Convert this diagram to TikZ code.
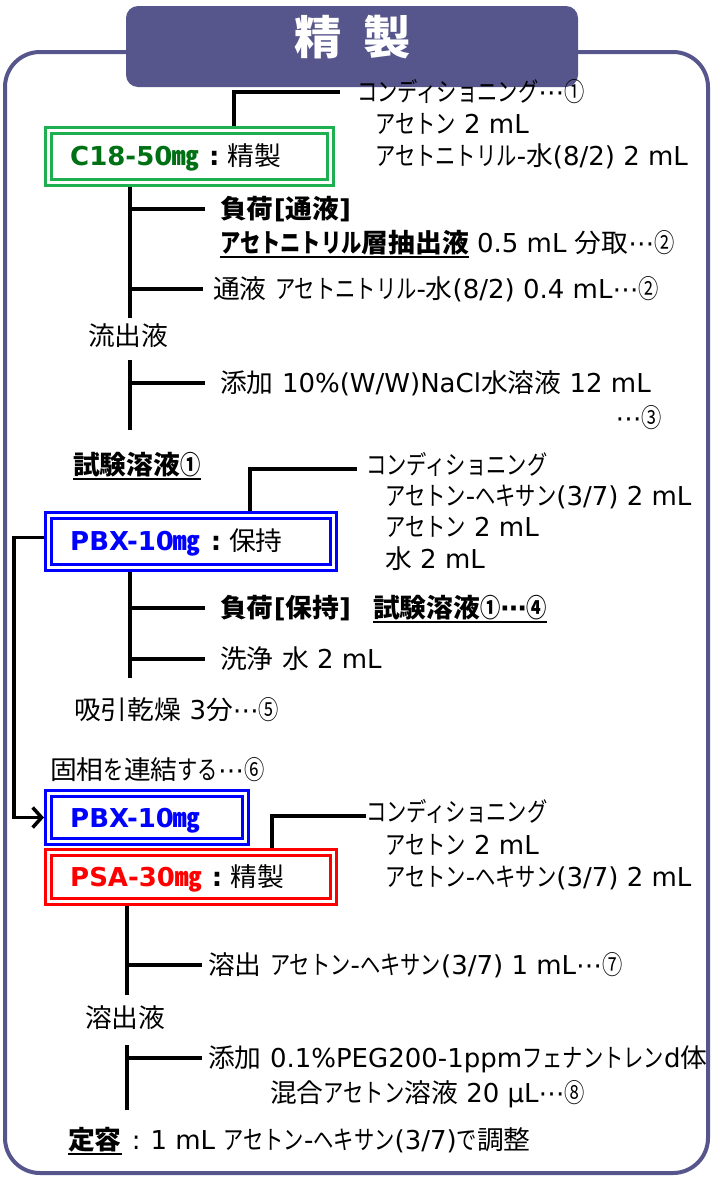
\documentclass[tikz,border=0pt]{standalone}
\usepackage{fontspec}
\setmainfont{DejaVu Sans}
\newfontfamily\jfont{Noto Sans CJK JP}[FakeStretch=1.03]
\newfontfamily\kfont{Noto Sans CJK JP}[FakeStretch=0.78]
\usetikzlibrary{arrows.meta}
\definecolor{framec}{RGB}{86,85,140}
\definecolor{c18line}{RGB}{30,176,80}
\definecolor{c18text}{RGB}{0,112,20}
\definecolor{bluec}{RGB}{0,0,255}
\definecolor{redc}{RGB}{255,0,0}
\XeTeXinterchartokenstate=1
\newXeTeXintercharclass\jclass
\newXeTeXintercharclass\kclass
\newcount\jc
\newcommand\jrange[3]{\jc=#1\relax\loop\XeTeXcharclass\jc=#3\relax\ifnum\jc<#2\advance\jc by 1\repeat}
\jrange{"3000}{"303F}{\jclass}
\jrange{"3040}{"30FF}{\kclass}
\jrange{"4E00}{"9FFF}{\jclass}
\jrange{"FF01}{"FF60}{\jclass}
\jrange{"2460}{"2473}{\kclass}
\jrange{"3380}{"33FF}{\jclass}
\XeTeXinterchartoks 0 \jclass = {\jfont}
\XeTeXinterchartoks 4095 \jclass = {\jfont}
\XeTeXinterchartoks \kclass \jclass = {\jfont}
\XeTeXinterchartoks 0 \kclass = {\kfont}
\XeTeXinterchartoks 4095 \kclass = {\kfont}
\XeTeXinterchartoks \jclass \kclass = {\kfont}
\XeTeXinterchartoks \jclass 0 = {\rmfamily}
\XeTeXinterchartoks \jclass 4095 = {\rmfamily}
\XeTeXinterchartoks \kclass 0 = {\rmfamily}
\XeTeXinterchartoks \kclass 4095 = {\rmfamily}
\newcommand\uline[1]{\setbox0=\hbox{#1}\rlap{\rule[-5pt]{\wd0}{2pt}}\box0\relax}
\newcommand\dd{⋯}
\begin{document}
\begin{tikzpicture}[x=1pt,y=-1pt,
  txt/.style={anchor=west, inner sep=0pt, text height=21pt, text depth=2pt, font=\fontsize{26pt}{30pt}\selectfont},
  lbl/.style={anchor=west, inner sep=0pt, text height=21pt, text depth=2pt, font=\fontsize{26pt}{30pt}\selectfont\bfseries},
  conn/.style={line width=3.5pt, draw=black},
  box/.style={draw=#1, double=white, double distance=3pt, line width=3pt, outer sep=4.5pt, inner sep=0pt},
  ]
\useasboundingbox (0,0) rectangle (713,1178);
% frame and title
\draw[framec, line width=4pt, rounded corners=35pt] (5,52) rectangle (708,1173);
\node[fill=framec, rounded corners=12pt, minimum width=452pt, minimum height=81pt, inner sep=0pt] (tab) at (352,46.5) {};
\node[inner sep=0pt, text=white, font=\fontsize{46pt}{50pt}\selectfont\bfseries] (title) at (353,37) {精\hspace{22pt}製};
% named helper coordinates
\coordinate (k1) at (130,0);
\coordinate (k2) at (127,0);
\coordinate (x234) at (234,0);
\coordinate (x250) at (250,0);
\coordinate (x272) at (272,0);
\coordinate (e1) at (130,318);
\coordinate (s2) at (130,360);
\coordinate (e2) at (130,430);
\coordinate (e3) at (130,678);
\coordinate (e4) at (127,995);
\coordinate (s5) at (127,1045);
\coordinate (e5) at (127,1110);
% C18 box
\node[box=c18line, minimum width=282pt, minimum height=52pt] (c18) at (189.5,156.5) {};
\node[lbl] (c18t) at (70,156) {{\color{c18text}C18-50㎎}\hspace{10pt}:\hspace{8pt}\mdseries 精製};
\node[txt] (cond1) at (357,92) {コンディショニング\dd①};
\node[txt] (c1a) at (375,124) {アセトン 2 mL};
\node[txt] (c1b) at (375,156) {アセトニトリル-水(8/2) 2 mL};
\draw[conn] (c18.north -| x234) |- ([xshift=-17pt]cond1.west);
\node[txt] (load1) at (220,209) {\bfseries 負荷[通液]};
\node[txt] (load1b) at (220,243) {\uline{\bfseries アセトニトリル層抽出液} 0.5 mL 分取\dd②};
\node[txt] (pass1) at (213,289) {通液 アセトニトリル-水(8/2) 0.4 mL\dd②};
\node[txt] (eff1) at (88,336) {流出液};
\draw[conn] (c18.south -| k1) -- (e1);
\draw[conn] (k1 |- load1.west) -- ([xshift=-15pt]load1.west);
\draw[conn] (k1 |- pass1.west) -- ([xshift=-10pt]pass1.west);
\node[txt] (add1) at (220,383) {添加 10\%(W/W)NaCl水溶液 12 mL};
\node[txt, anchor=east] (add1b) at (662,418) {\dd③};
\draw[conn] (s2) -- (e2);
\draw[conn] (k1 |- add1.west) -- ([xshift=-15pt]add1.west);
\node[txt] (test1) at (73,465) {\uline{\bfseries 試験溶液①}};
% PBX box
\node[box=bluec, minimum width=285pt, minimum height=52pt] (pbx1) at (191,541.5) {};
\node[lbl] (pbx1t) at (70,541) {{\color{bluec}PBX-10㎎}\hspace{10pt}:\hspace{8pt}\mdseries 保持};
\node[txt] (cond2) at (366,465) {コンディショニング};
\node[txt] (c2a) at (385,496) {アセトン-ヘキサン(3/7) 2 mL};
\node[txt] (c2b) at (385,527) {アセトン 2 mL};
\node[txt] (c2c) at (385,559) {水 2 mL};
\draw[conn] (pbx1.north -| x250) |- ([xshift=-9pt,yshift=-4pt]cond2.west);
\node[txt] (load2) at (220,608) {\bfseries 負荷[保持]};
\node[txt] (load2b) at (373,608) {\uline{\bfseries 試験溶液①\dd④}};
\node[txt] (wash) at (220,659) {洗浄 水 2 mL};
\draw[conn] (pbx1.south -| k1) -- (e3);
\draw[conn] (k1 |- load2.west) -- ([xshift=-15pt]load2.west);
\draw[conn] (k1 |- wash.west) -- ([xshift=-15pt]wash.west);
\node[txt] (dry) at (74,710) {吸引乾燥 3分\dd⑤};
\node[txt] (link) at (50,770) {固相を連結する\dd⑥};
% PBX + PSA
\node[box=bluec, minimum width=197pt, minimum height=48pt] (pbx2) at (147,817.5) {};
\node[lbl] (pbx2t) at (70,818) {\color{bluec}PBX-10㎎};
\node[box=redc, minimum width=285pt, minimum height=49pt] (psa) at (191,877) {};
\node[lbl] (psat) at (70,877) {{\color{redc}PSA-30㎎}\hspace{10pt}:\hspace{8pt}\mdseries 精製};
\draw[conn, -{Straight Barb[length=9pt,width=20pt,line width=3.5pt]}] ([yshift=4pt]pbx1.west) -- ++(-30,0) |- (pbx2.west);
\node[txt] (cond3) at (366,812) {コンディショニング};
\node[txt] (c3a) at (385,845) {アセトン 2 mL};
\node[txt] (c3b) at (385,877) {アセトン-ヘキサン(3/7) 2 mL};
\draw[conn] (psa.north -| x272) |- ([yshift=-4pt]cond3.west);
\node[txt] (elu) at (208,965) {溶出 アセトン-ヘキサン(3/7) 1 mL\dd⑦};
\node[txt] (eff2) at (85,1018) {溶出液};
\draw[conn] (psa.south -| k2) -- (e4);
\draw[conn] (k2 |- elu.west) -- ([xshift=-6pt]elu.west);
\node[txt] (add2) at (208,1058) {添加 0.1\%PEG200-1ppmフェナントレンd体};
\node[txt] (add2b) at (270,1093) {混合アセトン溶液 20 μL\dd⑧};
\draw[conn] (s5) -- (e5);
\draw[conn] (k2 |- add2.west) -- ([xshift=-6pt]add2.west);
\node[txt] (final) at (68,1140) {\uline{\bfseries 定容}\hspace{10pt}:\hspace{10pt}1 mL アセトン-ヘキサン(3/7)で調整};
\end{tikzpicture}
\end{document}
